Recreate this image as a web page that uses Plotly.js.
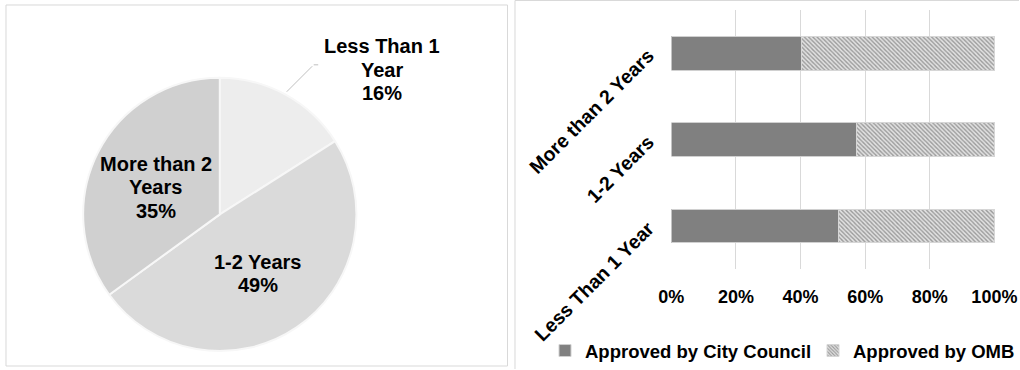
<!DOCTYPE html>
<html>
<head>
<meta charset="utf-8">
<script src="https://cdn.plot.ly/plotly-3.0.1.min.js"></script>
<style>html,body{margin:0;padding:0;background:#fff;overflow:hidden;}#chart{width:1020px;height:370px;}</style>
</head>
<body>
<div id="chart"></div>
<script>
// Pie data
const pieLabels = ['Less Than 1 Year', '1-2 Years', 'More than 2 Years'];
const pieText = ['Less Than 1<br>Year', '1-2 Years', 'More than 2<br>Years'];
const pieValues = [16, 49, 35];
const pieColors = ['#ededed', '#dadada', '#d0d0d0'];

// Bar data
const barCategories = ['Less Than 1 Year', '1-2 Years', 'More than 2 Years'];
const councilValues = [51.6, 57.2, 40.3];
const ombValues = [48.4, 42.8, 59.7];
const xTickVals = [0, 20, 40, 60, 80, 100];
const xTickText = xTickVals.map(v => v + '%');

const FONT = 'Liberation Sans, Arial, sans-serif';
const bold = (size) => ({family: FONT, size: size, color: '#000', weight: 'bold'});

const pie = {
  type: 'pie',
  labels: pieLabels,
  values: pieValues,
  sort: false,
  direction: 'clockwise',
  rotation: 0,
  textinfo: 'none',
  marker: {colors: pieColors, line: {color: '#f7f7f7', width: 2}},
  domain: {x: [83/1020, 357/1020], y: [(370-352)/370, (370-78)/370]},
  showlegend: false,
  hoverinfo: 'label+percent'
};

const council = {
  type: 'bar', orientation: 'h', name: 'Approved by City Council',
  y: barCategories, x: councilValues,
  marker: {color: '#808080', line: {color: '#d0d0d0', width: 1}},
  xaxis: 'x', yaxis: 'y', legend: 'legend'
};
const omb = {
  type: 'bar', orientation: 'h', name: 'Approved by OMB',
  y: barCategories, x: ombValues,
  marker: {color: '#e2e2e2', line: {color: '#d6d6d6', width: 1},
    pattern: {shape: '\\', fgcolor: '#9a9a9a', bgcolor: '#e2e2e2', size: 3, solidity: 0.45}},
  xaxis: 'x', yaxis: 'y', legend: 'legend2'
};

const total = pieValues.reduce((a, b) => a + b, 0);
const pct = pieValues.map(v => Math.round(v / total * 100) + '%');
const labelPos = [[382, 70], [258, 274], [156, 188]];
const LINE_H = 23.5;

const pieAnnotations = [];
pieText.forEach((t, i) => {
  const lines = (t + '<br>' + pct[i]).split('<br>');
  const n = lines.length;
  lines.forEach((ln, k) => {
    const cy = labelPos[i][1] + (k - (n - 1) / 2) * LINE_H;
    pieAnnotations.push({
      xref: 'paper', yref: 'paper', x: labelPos[i][0] / 1020, y: (370 - cy) / 370,
      xanchor: 'center', yanchor: 'middle', text: ln, showarrow: false,
      align: 'center', font: bold(20)
    });
  });
});

const layout = {
  width: 1020, height: 370,
  margin: {l: 0, r: 0, t: 0, b: 0},
  paper_bgcolor: '#fff', plot_bgcolor: 'rgba(0,0,0,0)',
  font: bold(18),
  barmode: 'stack', bargap: 0.61,
  xaxis: {
    domain: [672/1020, 996/1020], range: [0, 100.2],
    tickmode: 'array', tickvals: xTickVals, ticktext: xTickText,
    showgrid: true, gridcolor: '#d9d9d9', gridwidth: 1, zeroline: false,
    showline: false, ticks: '', ticklabelstandoff: 15,
    tickfont: bold(18), anchor: 'y', fixedrange: true
  },
  yaxis: {
    domain: [(370-270)/370, (370-10)/370],
    type: 'category', showgrid: false, zeroline: false, showline: false,
    tickangle: -45, ticks: '', ticklabelstandoff: 22,
    tickfont: bold(19.5), anchor: 'x', fixedrange: true
  },
  legend: {
    orientation: 'h', x: 545/1020, xanchor: 'left', y: (370-352)/370, yanchor: 'middle',
    font: bold(18.5), bgcolor: 'rgba(0,0,0,0)'
  },
  legend2: {
    orientation: 'h', x: 814/1020, xanchor: 'left', y: (370-352)/370, yanchor: 'middle',
    font: bold(18.5), bgcolor: 'rgba(0,0,0,0)'
  },
  shapes: [
    {type: 'rect', xref: 'paper', yref: 'paper', x0: 6/1020, x1: 508/1020, y0: (370-367)/370, y1: (370-5)/370,
     line: {color: '#d9d9d9', width: 1}, fillcolor: 'rgba(0,0,0,0)', layer: 'below'},
    {type: 'line', xref: 'paper', yref: 'paper', x0: 515.5/1020, x1: 1, y0: (370-0.5)/370, y1: (370-0.5)/370,
     line: {color: '#d9d9d9', width: 1}, layer: 'below'},
    {type: 'line', xref: 'paper', yref: 'paper', x0: 515.5/1020, x1: 515.5/1020, y0: 0, y1: (370-0.5)/370,
     line: {color: '#d9d9d9', width: 1}, layer: 'below'}
  ],
  annotations: pieAnnotations.concat([
    {xref: 'paper', yref: 'paper', x: 287/1020, y: (370-92)/370, ax: 27, ay: -27,
     text: '', showarrow: true, arrowhead: 0, arrowwidth: 1, arrowcolor: '#bfbfbf', standoff: 0},
    {xref: 'paper', yref: 'paper', x: 314/1020, y: (370-65)/370, ax: 6, ay: 0,
     text: '', showarrow: true, arrowhead: 0, arrowwidth: 1, arrowcolor: '#bfbfbf', standoff: 0}
  ])
};

Plotly.newPlot('chart', [pie, council, omb], layout, {displayModeBar: false, staticPlot: true});
</script>
</body>
</html>
